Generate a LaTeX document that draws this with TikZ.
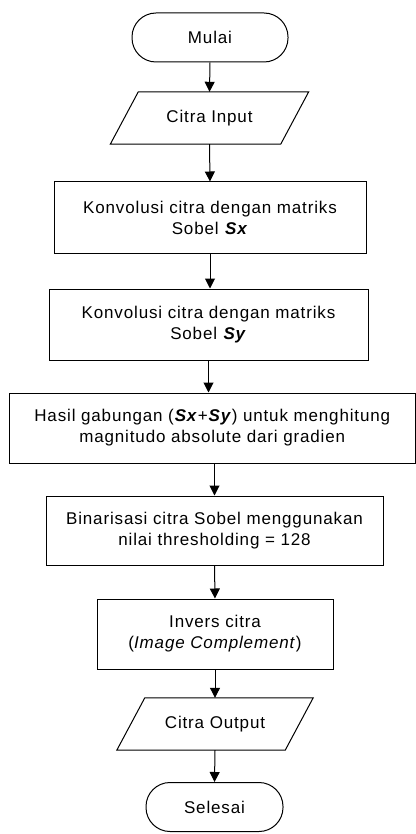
\documentclass[tikz,border=0pt]{standalone}
\usepackage{fontspec}
\setmainfont{Liberation Sans}[LetterSpace=5.0]
\usetikzlibrary{arrows.meta}
\begin{document}
\begin{tikzpicture}[x=1pt,y=-1pt,
  base/.style={inner sep=0pt, align=center, font=\fontsize{17}{21}\selectfont},
  term/.style={base, draw, line width=1pt, rounded corners=24pt, minimum height=49pt},
  proc/.style={base, draw, line width=1pt, minimum height=70pt},
  io/.style={base, minimum height=52pt},
  flow/.style={line width=1pt, -{Triangle[length=10pt,width=10pt]}}
]
\useasboundingbox (0,0) rectangle (415,834);
\node[term, minimum width=156pt] (mulai) at (210,37.5) {Mulai};
\node[io, minimum width=170pt] (in) at (209.5,118) {Citra Input};
\draw[line width=1pt] ([xshift=14pt]in.north west) -- ([xshift=14pt]in.north east)
  -- ([xshift=-14pt]in.south east) -- ([xshift=-14pt]in.south west) -- cycle;
\node[proc, minimum width=312pt, minimum height=71pt] (k1) at (210,217.5) {Konvolusi citra dengan matriks\\Sobel \textbf{\textit{Sx}}};
\node[proc, minimum width=319pt, minimum height=71pt] (k2) at (208.5,324.5) {Konvolusi citra dengan matriks\\Sobel \textbf{\textit{Sy}}};
\node[proc, minimum width=406.5pt] (hg) at (212.25,428) {Hasil gabungan (\textbf{\textit{Sx}}+\textbf{\textit{Sy}}) untuk menghitung\\magnitudo absolute dari gradien};
\node[proc, minimum width=337pt, minimum height=69pt] (bin) at (214.5,530.5) {Binarisasi citra Sobel menggunakan\\nilai thresholding = 128};
\node[proc, minimum width=236pt] (inv) at (215,634) {Invers citra\\(\textit{Image Complement})};
\node[io, minimum width=168pt] (out) at (215,724) {Citra Output};
\draw[line width=1pt] ([xshift=14pt]out.north west) -- ([xshift=14pt]out.north east)
  -- ([xshift=-14pt]out.south east) -- ([xshift=-14pt]out.south west) -- cycle;
\node[term, minimum width=137pt] (sel) at (214.5,807) {Selesai};
\draw[flow] (mulai.south) -- (in.north);
\draw[flow] (in.south) -- (k1.north);
\draw[flow] (k1.south) -- (k1.south |- k2.north);
\draw[flow] (k2.south) -- (k2.south |- hg.north);
\draw[flow] (bin.north |- hg.south) -- (bin.north);
\draw[flow] (bin.south) -- (inv.north);
\draw[flow] (inv.south) -- (out.north);
\draw[flow] (out.south) -- (sel.north);
\end{tikzpicture}
\end{document}
